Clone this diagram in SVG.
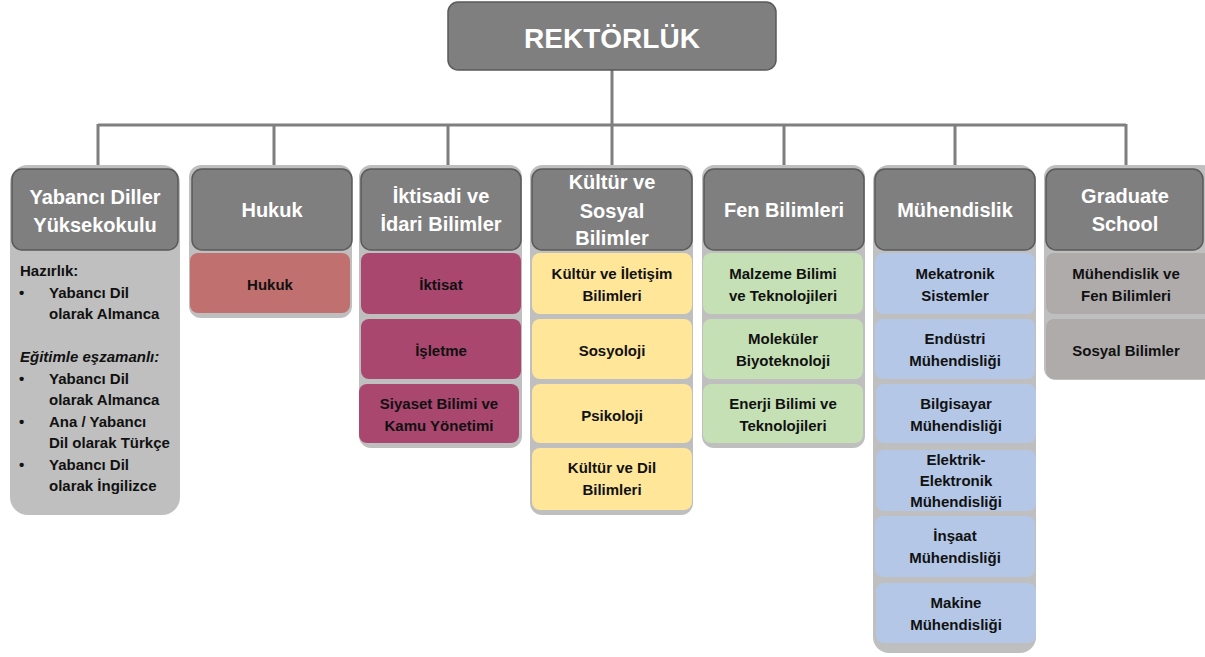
<svg xmlns="http://www.w3.org/2000/svg" width="1205" height="657" viewBox="0 0 1205 657">
<style>
.cont{fill:#bfbfbf}
.hdr{fill:#7f7f7f;stroke:#5a5a5a;stroke-width:1.5}
.ht{font-family:"Liberation Sans",Arial,sans-serif;font-weight:bold;font-size:20px;fill:#fff;text-anchor:middle}
.st{font-family:"Liberation Sans",Arial,sans-serif;font-weight:bold;font-size:15px;fill:#111;text-anchor:middle}
.bt{font-family:"Liberation Sans",Arial,sans-serif;font-weight:bold;font-size:15px;fill:#111}
.red{fill:#c0706f}.mar{fill:#a9476f}.yel{fill:#ffe699}.grn{fill:#c5e0b4}.blu{fill:#b4c7e7}.gry{fill:#afabab}
.conn{fill:none;stroke:#7f7f7f;stroke-width:3}
</style>
<g id="connectors">
<path class="conn" d="M612 70V125M98 125H1126M98 124V166M274 124V166M448 124V166M612 124V166M784 124V166M955 124V166M1126 124V166"/>
</g>
<g id="rektorluk">
<rect class="hdr" x="448" y="2" width="328" height="68" rx="10"/>
<text x="612" y="48" text-anchor="middle" font-family="'Liberation Sans',Arial,sans-serif" font-weight="bold" font-size="28" fill="#fff">REKTÖRLÜK</text>
</g>
<g id="col-yabanci">
<rect class="cont" x="10" y="165" width="170" height="350" rx="18"/>
<rect class="hdr" x="12" y="169" width="166" height="81" rx="10"/>
<text class="ht" x="95" y="204">Yabancı Diller</text>
<text class="ht" x="95" y="232">Yüksekokulu</text>
<text class="bt" x="20" y="276">Hazırlık:</text>
<text class="bt" x="19" y="298">•</text><text class="bt" x="49" y="298">Yabancı Dil</text>
<text class="bt" x="49" y="319">olarak Almanca</text>
<text class="bt" x="20" y="362" font-style="italic">Eğitimle eşzamanlı:</text>
<text class="bt" x="19" y="384">•</text><text class="bt" x="49" y="384">Yabancı Dil</text>
<text class="bt" x="49" y="405">olarak Almanca</text>
<text class="bt" x="19" y="427">•</text><text class="bt" x="49" y="427">Ana / Yabancı</text>
<text class="bt" x="49" y="448">Dil olarak Türkçe</text>
<text class="bt" x="19" y="470">•</text><text class="bt" x="49" y="470">Yabancı Dil</text>
<text class="bt" x="49" y="491">olarak İngilizce</text>
</g>
<g id="col-hukuk">
<rect class="cont" x="189" y="165" width="163" height="153" rx="12"/>
<rect class="hdr" x="192" y="169" width="160" height="81" rx="10"/>
<text class="ht" x="272" y="217">Hukuk</text>
<rect class="red" x="190" y="253" width="160" height="60" rx="8"/>
<text class="st" x="270" y="290">Hukuk</text>
</g>
<g id="col-iktisadi">
<rect class="cont" x="359" y="165" width="163" height="283" rx="12"/>
<rect class="hdr" x="361" y="169" width="160" height="81" rx="10"/>
<text class="ht" x="441" y="203">İktisadi ve</text>
<text class="ht" x="441" y="231">İdari Bilimler</text>
<rect class="mar" x="361" y="253" width="160" height="61" rx="8"/>
<text class="st" x="441" y="290">İktisat</text>
<rect class="mar" x="361" y="319" width="160" height="60" rx="8"/>
<text class="st" x="441" y="356">İşletme</text>
<rect class="mar" x="359" y="384" width="160" height="59" rx="8"/>
<text class="st" x="439" y="409">Siyaset Bilimi ve</text>
<text class="st" x="439" y="431">Kamu Yönetimi</text>
</g>
<g id="col-kultur">
<rect class="cont" x="530" y="165" width="163" height="350" rx="12"/>
<rect class="hdr" x="532" y="169" width="160" height="81" rx="10"/>
<text class="ht" x="612" y="189">Kültür ve</text>
<text class="ht" x="612" y="218">Sosyal</text>
<text class="ht" x="612" y="245">Bilimler</text>
<rect class="yel" x="532" y="253" width="160" height="61" rx="8"/>
<text class="st" x="612" y="279">Kültür ve İletişim</text>
<text class="st" x="612" y="301">Bilimleri</text>
<rect class="yel" x="532" y="319" width="160" height="60" rx="8"/>
<text class="st" x="612" y="356">Sosyoloji</text>
<rect class="yel" x="532" y="384" width="160" height="59" rx="8"/>
<text class="st" x="612" y="421">Psikoloji</text>
<rect class="yel" x="532" y="448" width="160" height="62" rx="8"/>
<text class="st" x="612" y="473">Kültür ve Dil</text>
<text class="st" x="612" y="495">Bilimleri</text>
</g>
<g id="col-fen">
<rect class="cont" x="702" y="165" width="163" height="283" rx="12"/>
<rect class="hdr" x="704" y="169" width="160" height="81" rx="10"/>
<text class="ht" x="784" y="217">Fen Bilimleri</text>
<rect class="grn" x="703" y="253" width="160" height="61" rx="8"/>
<text class="st" x="783" y="279">Malzeme Bilimi</text>
<text class="st" x="783" y="301">ve Teknolojileri</text>
<rect class="grn" x="703" y="319" width="160" height="60" rx="8"/>
<text class="st" x="783" y="344">Moleküler</text>
<text class="st" x="783" y="366">Biyoteknoloji</text>
<rect class="grn" x="703" y="384" width="160" height="59" rx="8"/>
<text class="st" x="783" y="409">Enerji Bilimi ve</text>
<text class="st" x="783" y="431">Teknolojileri</text>
</g>
<g id="col-muhendislik">
<rect class="cont" x="873" y="165" width="163" height="488" rx="16"/>
<rect class="hdr" x="875" y="169" width="160" height="81" rx="10"/>
<text class="ht" x="955" y="217">Mühendislik</text>
<rect class="blu" x="875" y="253" width="160" height="61" rx="8"/>
<text class="st" x="955" y="279">Mekatronik</text>
<text class="st" x="955" y="301">Sistemler</text>
<rect class="blu" x="875" y="319" width="160" height="60" rx="8"/>
<text class="st" x="955" y="344">Endüstri</text>
<text class="st" x="955" y="366">Mühendisliği</text>
<rect class="blu" x="876" y="384" width="160" height="59" rx="8"/>
<text class="st" x="956" y="409">Bilgisayar</text>
<text class="st" x="956" y="431">Mühendisliği</text>
<rect class="blu" x="876" y="450" width="160" height="61" rx="8"/>
<text class="st" x="956" y="465">Elektrik-</text>
<text class="st" x="956" y="486">Elektronik</text>
<text class="st" x="956" y="507">Mühendisliği</text>
<rect class="blu" x="875" y="516" width="160" height="61" rx="8"/>
<text class="st" x="955" y="541">İnşaat</text>
<text class="st" x="955" y="563">Mühendisliği</text>
<rect class="blu" x="876" y="583" width="160" height="60" rx="8"/>
<text class="st" x="956" y="608">Makine</text>
<text class="st" x="956" y="630">Mühendisliği</text>
</g>
<g id="col-graduate">
<rect class="cont" x="1044" y="165" width="170" height="215" rx="12"/>
<rect class="hdr" x="1046" y="169" width="157" height="81" rx="10"/>
<text class="ht" x="1125" y="203">Graduate</text>
<text class="ht" x="1125" y="231">School</text>
<rect class="gry" x="1046" y="253" width="165" height="61" rx="8"/>
<text class="st" x="1126" y="279">Mühendislik ve</text>
<text class="st" x="1126" y="301">Fen Bilimleri</text>
<rect class="gry" x="1046" y="319" width="165" height="60" rx="8"/>
<text class="st" x="1126" y="356">Sosyal Bilimler</text>
</g>
</svg>
